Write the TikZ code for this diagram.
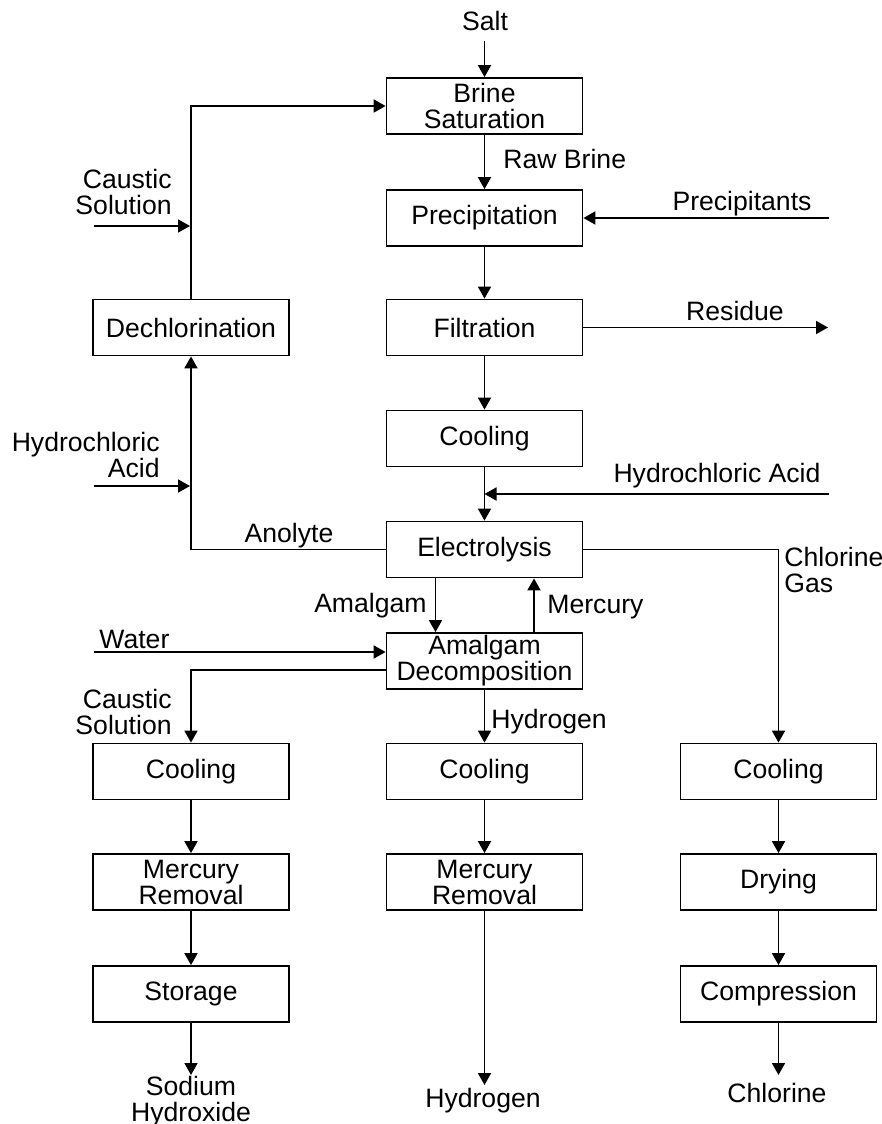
\documentclass[tikz,border=0pt]{standalone}
\usepackage{fontspec}
\setmainfont{Liberation Sans}
\usetikzlibrary{arrows.meta}
\tikzset{
  box/.style={draw, line width=0.9pt, minimum width=98pt, minimum height=28pt, align=center, inner sep=0pt, font=\fontsize{13.3}{13}\selectfont},
  lbl/.style={inner sep=0pt, font=\fontsize{13.3}{13}\selectfont},
  arr/.style={line width=0.9pt, -{Triangle[length=6pt,width=6.5pt]}},
  ln/.style={line width=0.9pt}
}
\begin{document}
\begin{tikzpicture}[x=0.5pt,y=-0.5pt]
\useasboundingbox (0,0) rectangle (882,1124);
% boxes
\node[box] (brine) at (484.5,106) {Brine\\Saturation};
\node[box] (precip) at (484.5,218) {Precipitation};
\node[box] (filt) at (484.5,327.5) {Filtration};
\node[box] (cool1) at (484.5,438.5) {Cooling};
\node[box] (elec) at (484.5,549.5) {Electrolysis};
\node[box] (amd) at (484.5,661) {Amalgam\\Decomposition};
\node[box] (dechl) at (191,327.5) {Dechlorination};
\node[box] (coolL) at (191,771.5) {Cooling};
\node[box] (coolM) at (484.5,771.5) {Cooling};
\node[box] (coolR) at (778.5,771.5) {Cooling};
\node[box] (merL) at (191,882) {Mercury\\Removal};
\node[box] (merM) at (484.5,882) {Mercury\\Removal};
\node[box] (dry) at (778.5,882) {Drying};
\node[box] (stor) at (191,994) {Storage};
\node[box] (comp) at (778.5,994) {Compression};
% free ends
\coordinate (saltin) at (484.5,41);
\coordinate (precin) at (829,218);
\coordinate (resout) at (828,327.5);
\coordinate (hclin) at (829,494);
\coordinate (hclj) at (484.5,494);
\coordinate (caustin) at (94,226);
\coordinate (caustj) at (190,226);
\coordinate (hcllin) at (94,486);
\coordinate (hcllj) at (190,486);
\coordinate (watin) at (94,652);
\coordinate (naohout) at (191,1075);
\coordinate (h2out) at (484.5,1085);
\coordinate (cl2out) at (778.5,1075);
% labels
\node[lbl, anchor=base] (lsalt) at (485,31) {Salt};
\node[lbl, anchor=base west] (lraw) at (503,168) {Raw Brine};
\node[lbl, anchor=base] (lprec) at (742,210) {Precipitants};
\node[lbl, anchor=base] (lres) at (735,320) {Residue};
\node[lbl, anchor=base] (lhclr) at (717,482) {Hydrochloric Acid};
\node[lbl, anchor=base west, align=left] (lcl) at (784,592) {Chlorine\\Gas};
\node[lbl, anchor=base west] (lmerc) at (547,613) {Mercury};
\node[lbl, anchor=base east] (lamal) at (427,612) {Amalgam};
\node[lbl, anchor=base west] (lh2) at (491,728) {Hydrogen};
\node[lbl, anchor=base west] (lwat) at (99,648) {Water};
\node[lbl, anchor=base east, align=right] (lcaus2) at (172,734) {Caustic\\Solution};
\node[lbl, anchor=base] (lano) at (289,542) {Anolyte};
\node[lbl, anchor=base east, align=right] (lhcll) at (160,477) {Hydrochloric\\Acid};
\node[lbl, anchor=base east, align=right] (lcaus1) at (172,214) {Caustic\\Solution};
\node[lbl, anchor=base, align=center] (lnaoh) at (191,1121) {Sodium\\Hydroxide};
\node[lbl, anchor=base] (lh2out) at (483,1107) {Hydrogen};
\node[lbl, anchor=base] (lcl2out) at (777,1102) {Chlorine};
% connectors
\draw[arr] (saltin) -- (brine.north);
\draw[arr] (brine) -- (precip);
\draw[arr] (precin) -- (precip.east);
\draw[arr] (precip) -- (filt);
\draw[arr] (filt.east) -- (resout);
\draw[arr] (filt) -- (cool1);
\draw[arr] (cool1) -- (elec);
\draw[arr] (hclin) -- (hclj);
\draw[arr] (elec.east) -| (coolR.north);
\draw[arr] (elec.west) -| (dechl.south);
\draw[arr] (hcllin) -- (hcllj);
\draw[arr] (dechl.north) |- (brine.west);
\draw[arr] (caustin) -- (caustj);
\draw[arr] ([xshift=-24.5pt]elec.south) -- ([xshift=-24.5pt]amd.north);
\draw[arr] ([xshift=24.75pt]amd.north) -- ([xshift=24.75pt]elec.south);
\draw[arr] (watin) -- (watin -| amd.west);
\draw[arr] ([yshift=-4.5pt]amd.west) -| (coolL.north);
\draw[arr] (amd) -- (coolM);
\draw[arr] (coolL) -- (merL);
\draw[arr] (merL) -- (stor);
\draw[arr] (stor.south) -- (naohout);
\draw[arr] (coolM) -- (merM);
\draw[arr] (merM.south) -- (h2out);
\draw[arr] (coolR) -- (dry);
\draw[arr] (dry) -- (comp);
\draw[arr] (comp.south) -- (cl2out);
\end{tikzpicture}
\end{document}
